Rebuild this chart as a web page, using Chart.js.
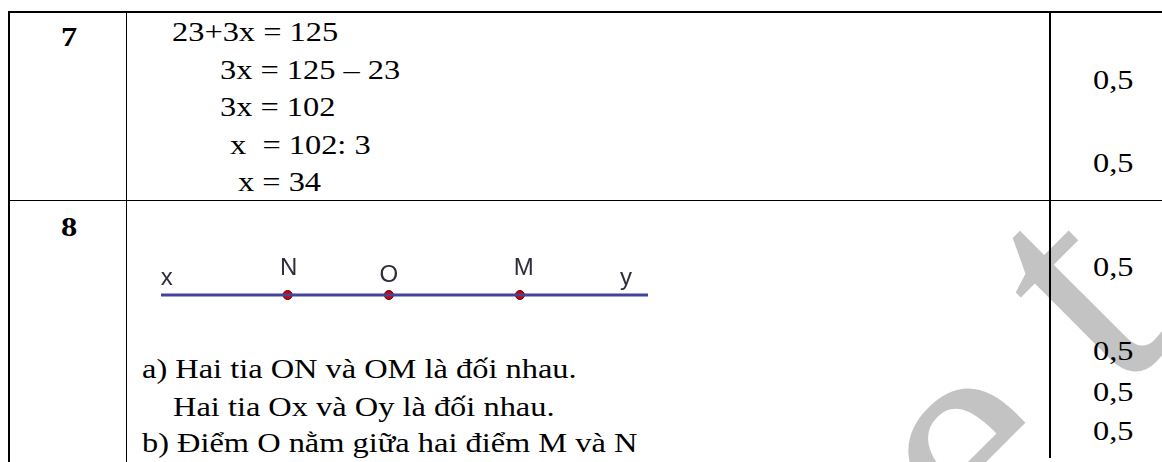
<!DOCTYPE html>
<html lang="vi">
<head>
<meta charset="UTF-8">
<script src="https://cdn.jsdelivr.net/npm/chart.js"></script>
<title>Đáp án câu 7, 8</title>
<style>
  body { margin: 0; width: 1162px; height: 462px; background: #fff; overflow: hidden; position: relative; }
  .ln { position: absolute; background: #000; z-index: 2; }
  .t { position: absolute; z-index: 2; font: 27px/27px "Liberation Serif", "Times New Roman", serif; color: #000;
       white-space: pre; transform: scaleX(1.2); transform-origin: 0 0; }
  .b { font-weight: bold; }
  #wm { position: absolute; left: 1010px; top: 396px; transform: rotate(-45deg); transform-origin: 0 0; z-index: 0; }
  #wm span { position: absolute; font: 330px/330px "Liberation Serif", serif; color: #c3c3c3; white-space: pre; }
  #hinh { position: absolute; left: 151px; top: 255px; z-index: 1; }
</style>
</head>
<body>
<div id="wm"><span style="left:-308px;top:-170px">ne</span><span style="left:74px;top:-200px">t</span></div>

<!-- khung bảng -->
<div class="ln" style="left:8px;top:11px;width:1154px;height:2px"></div>
<div class="ln" style="left:8px;top:200px;width:1154px;height:1px"></div>
<div class="ln" style="left:8px;top:11px;width:2px;height:451px"></div>
<div class="ln" style="left:126px;top:11px;width:1px;height:451px"></div>
<div class="ln" style="left:1049px;top:11px;width:2px;height:447px"></div>

<!-- câu 7 -->
<div class="t b" style="left:61px;top:24px">7</div>
<div class="t" style="left:172px;top:19px">23+3x = 125</div>
<div class="t" style="left:220px;top:57px">3x = 125 – 23</div>
<div class="t" style="left:220px;top:94px">3x = 102</div>
<div class="t" style="left:230px;top:132px">x  = 102: 3</div>
<div class="t" style="left:238px;top:169px">x = 34</div>
<div class="t" style="left:1093px;top:67px">0,5</div>
<div class="t" style="left:1093px;top:150px">0,5</div>

<!-- câu 8 -->
<div class="t b" style="left:61px;top:214px">8</div>
<canvas id="hinh" width="507" height="80"></canvas>
<div class="t" style="left:142px;top:356px">a) Hai tia ON và OM là đối nhau.</div>
<div class="t" style="left:173px;top:394px">Hai tia Ox và Oy là đối nhau.</div>
<div class="t" style="left:142px;top:430px">b) Điểm O nằm giữa hai điểm M và N</div>
<div class="t" style="left:1093px;top:254px">0,5</div>
<div class="t" style="left:1093px;top:338px">0,5</div>
<div class="t" style="left:1093px;top:379px">0,5</div>
<div class="t" style="left:1093px;top:418px">0,5</div>

<script>
// đường thẳng xy và các điểm trên nó
const duongThang = [0, 10];
const tenDiem = ['N', 'O', 'M'];
const toaDoDiem = [2.6, 4.68, 7.37];
const tenNhan = ['x', 'N', 'O', 'M', 'y'];
const toaDoNhan = [0.12, 2.62, 4.68, 7.45, 9.55];

// độ cao nhãn so với đường thẳng (px)
const nhanCao = { x: 10, N: 20, O: 13, M: 20, y: 10 };

const veNhan = {
  id: 'veNhan',
  afterDatasetsDraw(chart) {
    const ctx = chart.ctx;
    const sx = chart.scales.x, sy = chart.scales.y;
    ctx.save();
    ctx.font = '24px "Liberation Sans", Arial, sans-serif';
    ctx.fillStyle = '#2e2e3c';
    ctx.textAlign = 'center';
    ctx.textBaseline = 'alphabetic';
    tenNhan.forEach((t, i) => {
      ctx.fillText(t, sx.getPixelForValue(toaDoNhan[i]), sy.getPixelForValue(0) - nhanCao[t]);
    });
    ctx.restore();
  }
};

new Chart(document.getElementById('hinh'), {
  type: 'scatter',
  data: {
    datasets: [{
      data: duongThang.map(v => ({ x: v, y: 0 })),
      showLine: true,
      borderColor: '#43439c',
      borderWidth: 3,
      pointRadius: 0
    }, {
      data: toaDoDiem.map(v => ({ x: v, y: 0 })),
      pointRadius: 4.5,
      pointBackgroundColor: '#d40000',
      pointBorderColor: '#5a0000',
      pointBorderWidth: 1
    }]
  },
  options: {
    responsive: false,
    animation: false,
    layout: { padding: { left: 10, right: 10, top: 0, bottom: 0 } },
    plugins: { legend: { display: false }, tooltip: { enabled: false } },
    scales: {
      x: { type: 'linear', min: duongThang[0], max: duongThang[1], display: false },
      y: { min: -1, max: 1, display: false }
    }
  },
  plugins: [veNhan]
});
</script>
</body>
</html>
